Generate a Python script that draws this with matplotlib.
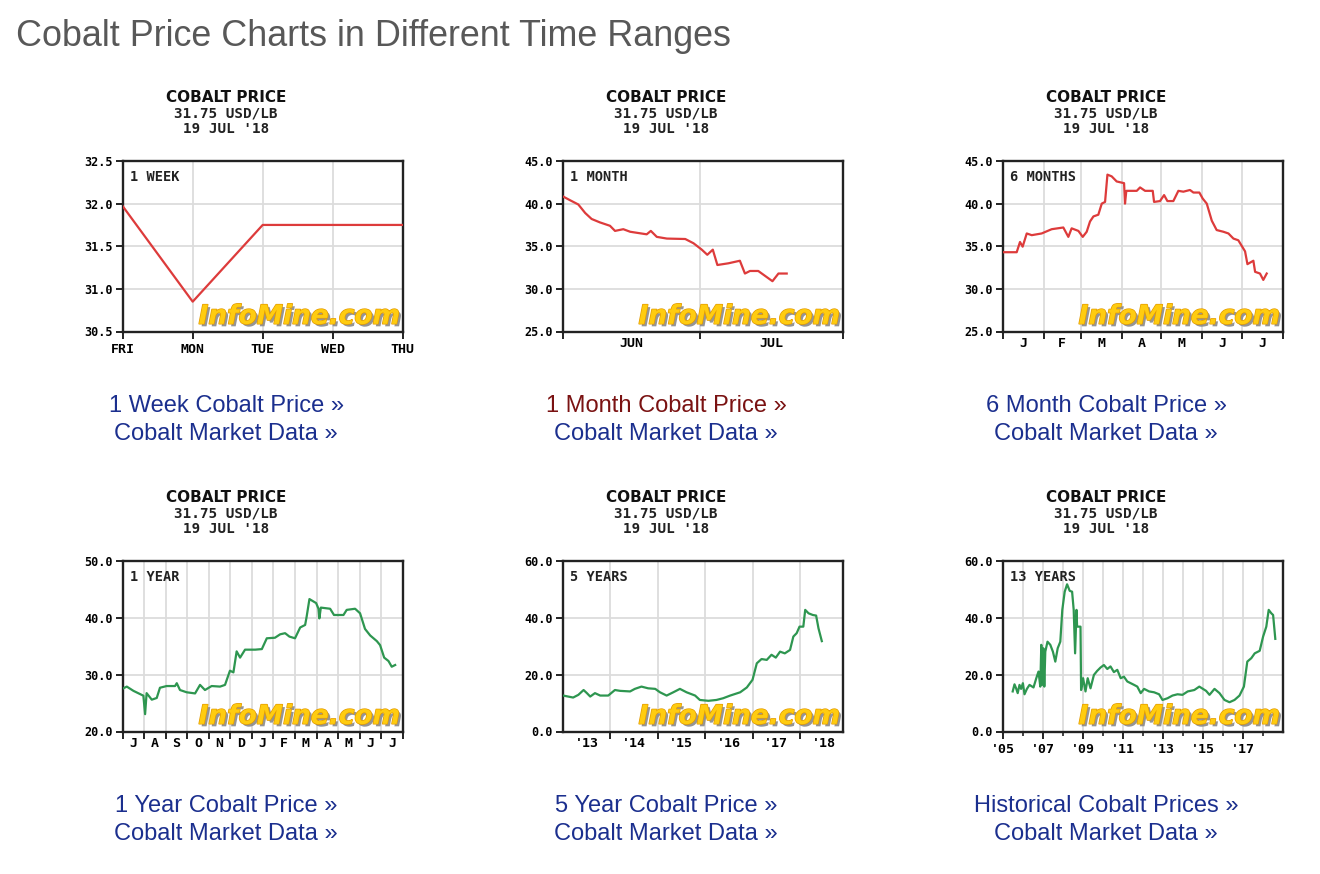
import matplotlib
matplotlib.use("Agg")
import matplotlib.pyplot as plt
import matplotlib.patheffects as pe
import numpy as np

W, H = 1320, 874

# ---------------- data ----------------
week_labels = ["FRI", "MON", "TUE", "WED", "THU"]
week_price = [31.97, 30.85, 31.75, 31.75, 31.75]

# 1 month: days since 1 Jun 2018
month_labels = ["JUN", "JUL"]
month_day = [0.2, 1.6, 3.4, 4.9, 6.3, 8.1, 10.3, 11.4, 13.2, 14.7, 18.3, 19.2, 20.5, 22.7,
             26.7, 28.5, 30.3, 31.5, 32.7, 33.7, 36.1, 38.6, 39.7, 40.8, 42.6, 45.7, 47.0, 48.8]
month_price = [40.8, 40.4, 39.9, 38.9, 38.2, 37.8, 37.4, 36.8, 37.0, 36.7, 36.4, 36.8, 36.1, 35.9,
               35.85, 35.35, 34.6, 34.0, 34.6, 32.8, 33.0, 33.3, 31.8, 32.1, 32.1, 30.9, 31.8, 31.8]

# 6 months: day of year 2018
half_labels = ["J", "F", "M", "A", "M", "J", "J"]
half_day = [0.5, 10.6, 13.1, 15.1, 18.2, 22.0, 29.5, 37.1, 45.9, 49.7, 52.2, 57.3, 60.6, 63.6,
            66.1, 68.7, 72.4, 75.0, 77.5, 79.3, 82.5, 86.3, 91.9, 92.6, 93.6, 101.5, 104.0, 107.8,
            113.6, 114.6, 119.1, 122.2, 124.7, 129.2, 133.0, 136.8, 141.8, 144.4, 148.9, 151.4,
            154.5, 158.3, 162.0, 167.1, 170.9, 174.7, 178.4, 183.5, 185.3, 189.8, 191.1, 194.8,
            197.3, 199.9]
half_price = [34.3, 34.3, 35.5, 34.95, 36.5, 36.3, 36.5, 37.0, 37.2, 36.1, 37.1, 36.8, 36.1, 36.7,
              37.9, 38.5, 38.7, 40.0, 40.2, 43.4, 43.2, 42.6, 42.4, 40.0, 41.5, 41.5, 41.9, 41.5,
              41.5, 40.2, 40.3, 41.0, 40.3, 40.3, 41.5, 41.4, 41.6, 41.3, 41.3, 40.6,
              40.0, 38.0, 36.9, 36.7, 36.5, 35.9, 35.7, 34.4, 32.9, 33.3, 32.0, 31.8,
              31.05, 31.8]

# 1 year: months since 1 Jul 2017
year_labels = ["J", "A", "S", "O", "N", "D", "J", "F", "M", "A", "M", "J", "J"]
year_month = [0.03, 0.19, 0.50, 0.96, 1.04, 1.11, 1.35, 1.58, 1.73, 2.04, 2.43, 2.51, 2.66, 2.97,
              3.36, 3.59, 3.82, 4.13, 4.52, 4.75, 4.98, 5.14, 5.29, 5.45, 5.68, 6.15, 6.46, 6.69,
              7.07, 7.31, 7.54, 7.74, 8.00, 8.24, 8.47, 8.54, 8.67, 8.98, 9.09, 9.13, 9.20, 9.63,
              9.81, 10.25, 10.40, 10.79, 11.02, 11.25, 11.49, 11.80, 11.95, 12.14, 12.34, 12.49, 12.65]
year_price = [27.6, 27.9, 27.15, 26.3, 23.05, 26.75, 25.6, 25.9, 27.7, 28.0, 28.0, 28.5, 27.3, 26.9,
              26.7, 28.2, 27.3, 28.0, 27.9, 28.2, 30.7, 30.4, 34.1, 33.0, 34.4, 34.4, 34.5, 36.4,
              36.5, 37.1, 37.3, 36.7, 36.4, 38.3, 38.75, 40.2, 43.3, 42.6, 41.6, 39.9, 41.8, 41.6,
              40.5, 40.5, 41.4, 41.6, 40.8, 38.05, 36.9, 35.9, 35.2, 33.0, 32.4, 31.4, 31.7]

# 5 years: decimal year
five_labels = ["'13", "'14", "'15", "'16", "'17", "'18"]
five_year = [2013.01, 2013.22, 2013.33, 2013.44, 2013.51, 2013.58, 2013.68, 2013.79, 2013.96,
             2014.10, 2014.21, 2014.42, 2014.52, 2014.66, 2014.80, 2014.95, 2015.05, 2015.19,
             2015.33, 2015.47, 2015.61, 2015.79, 2015.89, 2016.07, 2016.24, 2016.38, 2016.53,
             2016.74, 2016.88, 2017.00, 2017.09, 2017.19, 2017.30, 2017.40, 2017.49, 2017.58,
             2017.68, 2017.79, 2017.86, 2017.93, 2017.99, 2018.07, 2018.11, 2018.18, 2018.27,
             2018.34, 2018.39, 2018.46]
five_price = [12.65, 11.95, 12.9, 14.6, 13.5, 12.3, 13.5, 12.65, 12.65, 14.6, 14.3, 14.1, 15.0,
              15.8, 15.2, 15.0, 13.8, 12.65, 13.8, 15.0, 13.8, 12.65, 11.1, 10.8, 11.1, 11.7, 12.65,
              13.8, 15.5, 18.2, 24.0, 25.5, 25.2, 27.0, 26.0, 28.1, 27.5, 28.7, 33.4, 34.6, 36.9,
              36.9, 42.8, 41.6, 41.0, 40.8, 36.3, 31.8]

# 13 years: decimal year
hist_labels = ["'05", "'07", "'09", "'11", "'13", "'15", "'17"]
hist_year = [2005.50, 2005.59, 2005.67, 2005.75, 2005.84, 2005.92, 2006.01, 2006.09, 2006.21,
             2006.34, 2006.54, 2006.68, 2006.79, 2006.88, 2006.93, 2006.98, 2007.03, 2007.08,
             2007.13, 2007.24, 2007.38, 2007.51, 2007.63, 2007.75, 2007.88, 2007.98, 2008.10,
             2008.22, 2008.35, 2008.47, 2008.55, 2008.62, 2008.69, 2008.72, 2008.89, 2008.92,
             2009.02, 2009.14, 2009.25, 2009.39, 2009.56, 2009.72, 2009.89, 2010.06, 2010.23,
             2010.39, 2010.56, 2010.73, 2010.90, 2011.06, 2011.23, 2011.40, 2011.57, 2011.73,
             2011.90, 2012.07, 2012.32, 2012.57, 2012.82, 2012.99, 2013.24, 2013.49, 2013.74,
             2013.99, 2014.25, 2014.58, 2014.83, 2015.17, 2015.34, 2015.59, 2015.84, 2016.09,
             2016.34, 2016.59, 2016.84, 2017.06, 2017.23, 2017.43, 2017.60, 2017.85, 2018.02,
             2018.18, 2018.30, 2018.43, 2018.52, 2018.63]
hist_price = [14.1, 16.6, 15.2, 13.5, 16.4, 15.0, 17.0, 13.1, 15.0, 16.4, 15.5, 18.75, 21.1, 15.8,
              30.5, 16.4, 29.3, 15.8, 28.1, 31.6, 30.5, 28.1, 24.6, 29.3, 31.6, 42.8, 49.2, 51.8,
              49.5, 49.2, 42.8, 27.5, 42.8, 36.9, 36.9, 14.6, 18.75, 14.1, 18.75, 15.2, 19.9, 21.3,
              22.5, 23.4, 22.0, 22.9, 20.9, 21.7, 18.75, 19.3, 17.6, 17.0, 16.4, 15.8, 13.5, 15.0,
              14.1, 13.8, 13.1, 11.1, 11.7, 12.65, 13.1, 12.9, 14.1, 14.6, 15.8, 14.3, 12.9, 15.0,
              13.5, 11.1, 10.3, 11.1, 12.65, 15.8, 24.6, 25.8, 27.5, 28.4, 33.4, 36.9, 42.8, 41.6,
              41.0, 32.6]

header_lines = ["COBALT PRICE", "31.75 USD/LB", "19 JUL '18"]
panel_names = ["1 WEEK", "1 MONTH", "6 MONTHS", "1 YEAR", "5 YEARS", "13 YEARS"]
link_top = ["1 Week Cobalt Price »", "1 Month Cobalt Price »", "6 Month Cobalt Price »",
            "1 Year Cobalt Price »", "5 Year Cobalt Price »", "Historical Cobalt Prices »"]
link_bottom = "Cobalt Market Data »"
page_title = "Cobalt Price Charts in Different Time Ranges"

# ---------------- styling ----------------
RED = "#dd3b3b"
GREEN = "#2e9650"
GRID = "#dcdcdc"
LINK = "#1b2f8e"
LINK_VISITED = "#7a1212"
MONO = "DejaVu Sans Mono"

fig = plt.figure(figsize=(W / 100, H / 100), dpi=100)
fig.patch.set_facecolor("white")


def fx(x):
    return x / W


def fy(y):
    return 1 - y / H


fig.text(fx(16), fy(37), page_title, fontsize=25.8, color="#585858",
         family="Liberation Sans", ha="left", va="center")

col_x = [122.7, 562.7, 1002.7]
row_y = [161.0, 561.0]
AX_W, AX_H = 280.0, 170.5


def make_axes(col, row):
    x0 = col_x[col]
    y0 = row_y[row]
    ax = fig.add_axes([fx(x0), fy(y0 + AX_H), AX_W / W, AX_H / H])
    for s in ax.spines.values():
        s.set_linewidth(1.7)
        s.set_color("#222222")
    ax.tick_params(axis="both", which="major", direction="out", length=5, width=1.4,
                   labelsize=8.5, pad=2, color="#222222")
    ax.tick_params(axis="x", which="major", labelsize=9.5, pad=3)
    ax.tick_params(axis="x", which="minor", length=0, labelsize=9.5, pad=4)
    cx = x0 + 103.5
    base = row * 400
    fig.text(fx(cx), fy(97.5 + base), header_lines[0], fontsize=11, family="DejaVu Sans",
             fontweight="bold", ha="center", va="center", color="#111111")
    fig.text(fx(cx), fy(113.3 + base), header_lines[1], fontsize=10.3, family=MONO,
             fontweight="bold", ha="center", va="center", color="#222222")
    fig.text(fx(cx), fy(129 + base), header_lines[2], fontsize=10.3, family=MONO,
             fontweight="bold", ha="center", va="center", color="#222222")
    idx = row * 3 + col
    ax.text(0.027, 0.905, panel_names[idx], transform=ax.transAxes, fontsize=9.8,
            family=MONO, fontweight="bold", ha="left", va="center", color="#222222", zorder=5)
    wm = ax.text(0.99, 0.045, "InfoMine.com", transform=ax.transAxes, fontsize=19,
                 family="DejaVu Sans", fontweight="heavy", style="italic", color="#ffcc10",
                 ha="right", va="baseline", zorder=3)
    wm.set_path_effects([pe.SimplePatchShadow(offset=(1.8, -1.8), shadow_rgbFace="#8a8a8a", alpha=0.9),
                         pe.Stroke(linewidth=1.0, foreground="#e39a00"), pe.Normal()])
    lx = x0 + 103.5
    fig.text(fx(lx), fy(406 + base), link_top[idx], fontsize=17, family="Liberation Sans",
             color=LINK_VISITED if idx == 1 else LINK, ha="center", va="center")
    fig.text(fx(lx), fy(434 + base), link_bottom, fontsize=17, family="Liberation Sans",
             color=LINK, ha="center", va="center")
    return ax


def finish(ax, ylo, yhi, ystep):
    ax.set_ylim(ylo, yhi)
    yt = np.arange(ylo, yhi + ystep / 2, ystep)
    ax.set_yticks(yt)
    ax.set_yticklabels([f"{v:.1f}" for v in yt], family=MONO, fontweight="bold")
    for v in yt[1:-1]:
        ax.axhline(v, color=GRID, lw=1.3, zorder=1)
    for lab in ax.get_xticklabels(which="both"):
        lab.set_family(MONO)
        lab.set_fontweight("bold")


def vgrid(ax, xs):
    for v in xs:
        ax.axvline(v, color=GRID, lw=1.3, zorder=1)


# --- 1 week ---
ax = make_axes(0, 0)
wx = np.arange(len(week_labels))
ax.plot(wx, week_price, color=RED, lw=1.6, zorder=4)
ax.set_xlim(0, len(week_labels) - 1)
ax.set_xticks(wx)
ax.set_xticklabels(week_labels)
vgrid(ax, wx[1:-1])
finish(ax, 30.5, 32.5, 0.5)

# --- 1 month ---
ax = make_axes(1, 0)
ax.plot(month_day, month_price, color=RED, lw=1.6, zorder=4)
ax.set_xlim(0, 61)
ax.set_xticks([0, 30, 61])
ax.set_xticklabels([])
ax.set_xticks([15, 45.5], minor=True)
ax.set_xticklabels(month_labels, minor=True)
vgrid(ax, [30])
finish(ax, 25, 45, 5)

# --- 6 months ---
ax = make_axes(2, 0)
ax.plot(half_day, half_price, color=RED, lw=1.6, zorder=4)
mb = [0, 31, 59, 90, 120, 151, 181, 212]
ax.set_xlim(0, 212)
ax.set_xticks(mb)
ax.set_xticklabels([])
ax.set_xticks([(a + b) / 2 for a, b in zip(mb[:-1], mb[1:])], minor=True)
ax.set_xticklabels(half_labels, minor=True)
vgrid(ax, mb[1:-1])
finish(ax, 25, 45, 5)

# --- 1 year ---
ax = make_axes(0, 1)
ax.plot(year_month, year_price, color=GREEN, lw=1.6, zorder=4)
ax.set_xlim(0, 13)
ax.set_xticks(np.arange(14))
ax.set_xticklabels([])
ax.set_xticks(np.arange(13) + 0.5, minor=True)
ax.set_xticklabels(year_labels, minor=True)
vgrid(ax, np.arange(1, 13))
finish(ax, 20, 50, 10)

# --- 5 years ---
ax = make_axes(1, 1)
ax.plot(five_year, five_price, color=GREEN, lw=1.6, zorder=4)
ax.set_xlim(2013, 2018.9)
ax.set_xticks(np.arange(2014, 2019))
ax.set_xticklabels([])
ax.set_xticks(np.arange(2013, 2019) + 0.5, minor=True)
ax.set_xticklabels(five_labels, minor=True)
vgrid(ax, np.arange(2014, 2019))
finish(ax, 0, 60, 20)

# --- 13 years ---
ax = make_axes(2, 1)
ax.plot(hist_year, hist_price, color=GREEN, lw=1.6, zorder=4)
ax.set_xlim(2005, 2019)
ax.set_xticks(np.arange(2005, 2018, 2))
ax.set_xticklabels(hist_labels)
ax.set_xticks(np.arange(2006, 2020, 2), minor=True)
ax.tick_params(axis="x", which="minor", length=3, width=1.2, color="#222222", pad=3)
vgrid(ax, np.arange(2006, 2019))
finish(ax, 0, 60, 20)

fig.savefig("out.png", dpi=100, facecolor="white")
